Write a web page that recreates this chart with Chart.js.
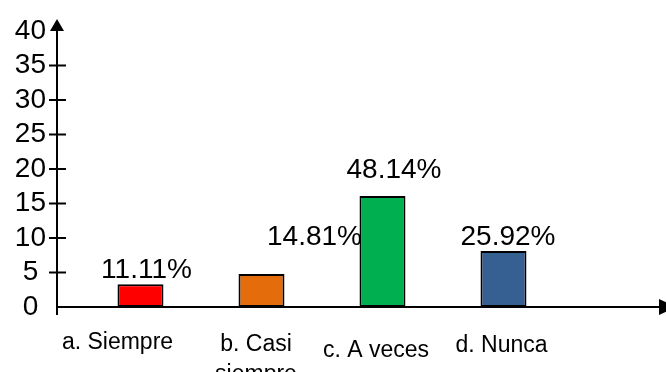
<!DOCTYPE html>
<html>
<head>
<meta charset="utf-8">
<script src="https://cdn.jsdelivr.net/npm/chart.js@4/dist/chart.umd.min.js"></script>
<style>
  html, body { margin: 0; padding: 0; background: #ffffff; }
  #wrap { position: relative; width: 666px; height: 372px; }
</style>
</head>
<body>
<div id="wrap"><canvas id="chart" width="666" height="372"></canvas></div>
<script>
// Answer categories (the last slot is left empty, as in the original sheet)
const categories = ['a. Siempre', ['b. Casi', 'siempre'], 'c. A veces', 'd. Nunca', ''];
// Bar heights on the 0–40 axis
const values = [3.3, 4.8, 16.1, 8.1];
// Share of answers written above each bar
const percentLabels = ['11.11%', '14.81%', '48.14%', '25.92%'];
// Value axis range and step
const yMin = 0;
const yMax = 40;
const yStep = 5;

const barColors = ['#FF0000', '#E46C0A', '#00B050', '#376092'];
const FONT = 'Liberation Sans, Arial, sans-serif';

// Hand-placed text offsets (pixels): [dx, gap above bar top]
const PCT_OFFSET = [[6, 6], [53, 29], [11.5, 18], [4.5, 6]];
// Category label offsets (pixels): [dx from tick, baseline below axis]
const CAT_OFFSET = [[0, 42], [17.5, 44], [16.5, 50], [21, 45]];

const arrowAxes = {
  id: 'arrowAxes',
  beforeDatasetsDraw(chart) {
    const ctx = chart.ctx;
    const meta = chart.getDatasetMeta(1);
    ctx.save();
    ctx.fillStyle = '#000';
    ctx.font = '28px ' + FONT;
    ctx.textAlign = 'center';
    ctx.textBaseline = 'alphabetic';
    meta.data.forEach((bar, i) => {
      if (!percentLabels[i]) return;
      const off = PCT_OFFSET[i];
      ctx.fillText(percentLabels[i], bar.x + off[0], bar.y - off[1]);
    });
    ctx.restore();
  },
  afterDatasetsDraw(chart) {
    const ctx = chart.ctx;
    const area = chart.chartArea;
    const xs = chart.scales.x;
    const ys = chart.scales.y;
    const ax = area.left;
    const ay = area.bottom;
    ctx.save();
    ctx.strokeStyle = '#000';
    ctx.fillStyle = '#000';
    ctx.lineWidth = 2;

    // vertical axis with arrow
    ctx.beginPath();
    ctx.moveTo(ax, ay + 8);
    ctx.lineTo(ax, area.top - 1);
    ctx.stroke();
    ctx.beginPath();
    ctx.moveTo(ax, area.top - 12);
    ctx.lineTo(ax - 7, area.top);
    ctx.lineTo(ax + 7, area.top);
    ctx.closePath();
    ctx.fill();

    // tick marks crossing the vertical axis
    ys.ticks.forEach(t => {
      if (t.value <= yMin || t.value >= yMax) return;
      const y = ys.getPixelForValue(t.value);
      ctx.beginPath();
      ctx.moveTo(ax - 8, y);
      ctx.lineTo(ax + 9, y);
      ctx.stroke();
    });

    // horizontal axis with arrow
    ctx.beginPath();
    ctx.moveTo(ax - 1, ay);
    ctx.lineTo(area.right - 2, ay);
    ctx.stroke();
    ctx.beginPath();
    ctx.moveTo(area.right - 3, ay - 8);
    ctx.lineTo(area.right + 14, ay);
    ctx.lineTo(area.right - 3, ay + 8);
    ctx.closePath();
    ctx.fill();

    // category labels
    ctx.font = '23px ' + FONT;
    ctx.textAlign = 'center';
    ctx.textBaseline = 'alphabetic';
    categories.forEach((lab, i) => {
      if (!CAT_OFFSET[i]) return;
      const lines = Array.isArray(lab) ? lab : [lab];
      const x = xs.getPixelForTick(i) + CAT_OFFSET[i][0];
      lines.forEach((ln, k) => {
        ctx.fillText(ln, x, ay + CAT_OFFSET[i][1] + k * 30);
      });
    });
    ctx.restore();
  }
};

new Chart(document.getElementById('chart'), {
  type: 'bar',
  data: {
    labels: categories,
    datasets: [
      { label: '', data: categories.map(() => null) },
      {
        label: 'Respuestas',
        data: values,
        backgroundColor: barColors,
        borderColor: '#000000',
        borderWidth: 2,
        borderSkipped: false
      }
    ]
  },
  options: {
    responsive: false,
    animation: false,
    devicePixelRatio: 1,
    layout: { padding: { left: 0, top: 31, right: 4, bottom: 65 } },
    datasets: { bar: { categoryPercentage: 0.76, barPercentage: 1 } },
    plugins: { legend: { display: false }, tooltip: { enabled: false } },
    scales: {
      x: { display: false, offset: true },
      y: {
        min: yMin,
        max: yMax,
        ticks: {
          stepSize: yStep,
          autoSkip: false,
          color: '#000',
          font: { family: FONT, size: 28, lineHeight: 1 },
          padding: 11,
          crossAlign: 'center'
        },
        grid: { display: false, drawTicks: false },
        border: { display: false },
        afterFit(scale) { scale.width = 57; }
      }
    }
  },
  plugins: [arrowAxes]
});
</script>
</body>
</html>
